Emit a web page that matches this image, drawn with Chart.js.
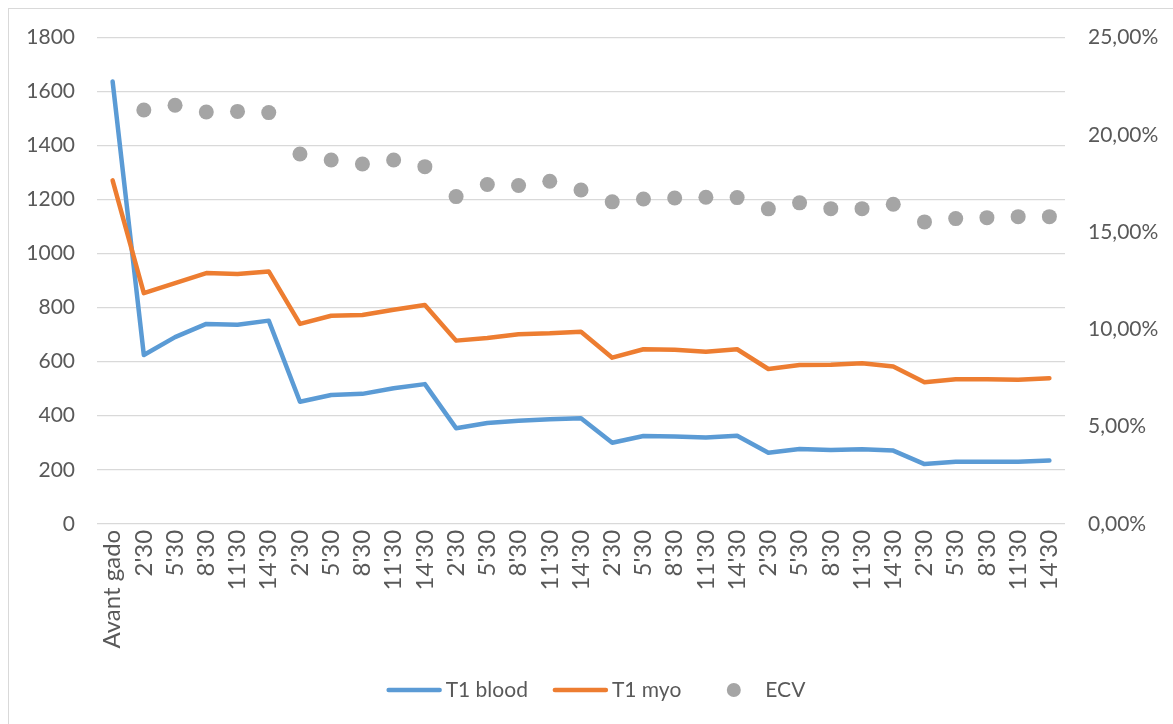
<!DOCTYPE html>
<html>
<head>
<meta charset="utf-8">
<script src="https://cdn.jsdelivr.net/npm/chart.js@4"></script>
<style>
  html, body { margin: 0; padding: 0; background: #fff; overflow: hidden; }
  #frame { position: absolute; left: 8px; top: 8px; width: 1300px; height: 900px; border: 1px solid #d9d9d9; box-sizing: border-box; }
  #chart { position: absolute; left: 0; top: 0; }
</style>
</head>
<body>
<div id="frame"></div>
<canvas id="chart" width="1173" height="724"></canvas>
<script>
// Acquisition times: baseline, then five series of post-contrast readings
const categories = [
  'Avant gado',
  "2'30", "5'30", "8'30", "11'30", "14'30",
  "2'30", "5'30", "8'30", "11'30", "14'30",
  "2'30", "5'30", "8'30", "11'30", "14'30",
  "2'30", "5'30", "8'30", "11'30", "14'30",
  "2'30", "5'30", "8'30", "11'30", "14'30",
  "2'30", "5'30", "8'30", "11'30", "14'30"
];

// T1 values (ms)
const t1Blood = [1637, 625, 691, 740, 737, 752, 452, 477, 481, 502, 517,
                 354, 373, 381, 387, 391, 300, 325, 323, 319, 326,
                 263, 277, 273, 276, 271, 221, 230, 230, 230, 234];
const t1Myo = [1271, 854, 891, 928, 925, 934, 740, 770, 773, 792, 810,
               678, 688, 702, 705, 711, 615, 646, 644, 637, 646,
               573, 588, 589, 594, 582, 524, 535, 535, 533, 539];

// Extracellular volume (%), no value before injection
const ecv = [null, 21.27, 21.52, 21.17, 21.20, 21.14, 19.01, 18.70, 18.50, 18.70, 18.36,
             16.82, 17.44, 17.39, 17.61, 17.16, 16.55, 16.70, 16.75, 16.79, 16.77,
             16.19, 16.50, 16.20, 16.20, 16.43, 15.52, 15.69, 15.74, 15.79, 15.79];

const FONT = 'Lato, "Open Sans", sans-serif';
const TEXT = '#595959';
const GRID = '#d9d9d9';

// Legend row drawn under the axis labels: line swatches and a dot swatch
const bottomLegend = {
  id: 'bottomLegend',
  afterDraw(chart) {
    const ctx = chart.ctx;
    const y = 690;
    const slot = 55, gap = 4, between = 25;
    ctx.save();
    ctx.font = '21px ' + FONT;
    ctx.textBaseline = 'middle';
    const items = chart.data.datasets.map(ds => ({
      text: ds.label,
      color: ds.borderColor || ds.backgroundColor,
      dot: ds.showLine === false,
      w: ctx.measureText(ds.label).width
    }));
    const total = items.reduce((s, it) => s + slot + gap + it.w, 0) + between * (items.length - 1);
    let x = 596 - total / 2;
    items.forEach(it => {
      if (it.dot) {
        ctx.fillStyle = it.color;
        ctx.beginPath();
        ctx.arc(x + slot / 2, y, 7, 0, Math.PI * 2);
        ctx.fill();
      } else {
        ctx.strokeStyle = it.color;
        ctx.lineWidth = 4.5;
        ctx.lineCap = 'round';
        ctx.beginPath();
        ctx.moveTo(x + 2, y);
        ctx.lineTo(x + slot - 2, y);
        ctx.stroke();
      }
      ctx.fillStyle = TEXT;
      ctx.textAlign = 'left';
      ctx.fillText(it.text, x + slot + gap, y);
      x += slot + gap + it.w + between;
    });
    ctx.restore();
  }
};

new Chart(document.getElementById('chart'), {
  type: 'line',
  data: {
    labels: categories,
    datasets: [
      {
        label: 'T1 blood',
        data: t1Blood,
        yAxisID: 'y',
        borderColor: '#5b9bd5',
        backgroundColor: '#5b9bd5',
        borderWidth: 4.5,
        borderCapStyle: 'round',
        borderJoinStyle: 'round',
        pointRadius: 0,
        tension: 0,
        order: 2
      },
      {
        label: 'T1 myo',
        data: t1Myo,
        yAxisID: 'y',
        borderColor: '#ed7d31',
        backgroundColor: '#ed7d31',
        borderWidth: 4.5,
        borderCapStyle: 'round',
        borderJoinStyle: 'round',
        pointRadius: 0,
        tension: 0,
        order: 1
      },
      {
        label: 'ECV',
        data: ecv,
        yAxisID: 'y1',
        showLine: false,
        backgroundColor: '#a5a5a5',
        pointBackgroundColor: '#a5a5a5',
        pointBorderWidth: 0,
        pointRadius: 7.5,
        order: 0
      }
    ]
  },
  options: {
    responsive: false,
    animation: false,
    layout: { padding: { top: 37.5, bottom: 57, left: 0, right: 0 } },
    plugins: {
      legend: { display: false },
      tooltip: { enabled: false }
    },
    scales: {
      x: {
        offset: true,
        grid: { display: false, drawTicks: false, offset: true },
        border: { display: false },
        ticks: {
          color: TEXT,
          font: { family: FONT, size: 24 },
          minRotation: 90,
          maxRotation: 90,
          autoSkip: false,
          padding: 6
        },
        afterFit(scale) { scale.height = 143.2; }
      },
      y: {
        position: 'left',
        min: 0,
        max: 1800,
        grid: { color: GRID, lineWidth: 1.3, drawTicks: false },
        border: { display: false },
        ticks: {
          stepSize: 200,
          color: TEXT,
          font: { family: FONT, size: 21 },
          padding: 22,
          callback: v => String(v)
        },
        afterFit(scale) { scale.width = 97; }
      },
      y1: {
        position: 'right',
        min: 0,
        max: 25,
        grid: { display: false, drawTicks: false },
        border: { display: false },
        ticks: {
          stepSize: 5,
          color: TEXT,
          font: { family: FONT, size: 21 },
          padding: 23,
          callback: v => v.toFixed(2).replace('.', ',') + '%'
        },
        afterFit(scale) { scale.width = 108; }
      }
    }
  },
  plugins: [bottomLegend]
});
</script>
</body>
</html>
